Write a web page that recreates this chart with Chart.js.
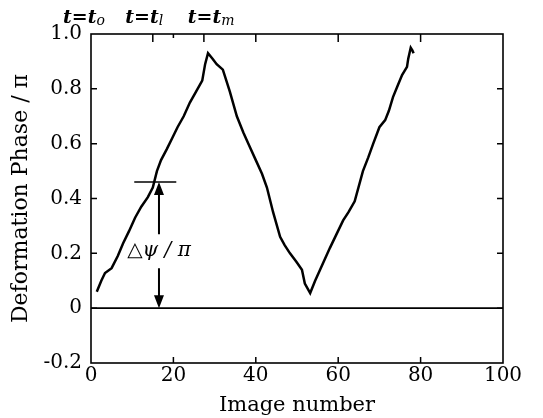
<!DOCTYPE html>
<html>
<head>
<meta charset="utf-8">
<script src="https://cdn.jsdelivr.net/npm/chart.js@4/dist/chart.umd.min.js"></script>
<style>
  html, body { margin: 0; padding: 0; background: #fff; }
  #wrap { width: 543px; height: 418px; }
</style>
</head>
<body>
<div id="wrap"><canvas id="phase"></canvas></div>
<script>
// phase curve, read per image number
const imageNumbers = [1.4, 2.5, 3.4, 5, 6.5, 7.8, 9.2, 10.7, 12.2, 13.8, 15, 16, 17, 18.4, 19.7, 21, 22.5, 24, 25.5, 27, 27.7, 28.4,
  29.5, 30.5, 32, 33.7, 35.4, 37, 38.5, 40, 41.5, 42.7, 44.2, 45.9, 47, 48.3, 49.8, 51.2, 51.9, 53.2,
  54.4, 55.6, 58, 59.6, 61.2, 62.5, 64, 66, 67.3, 68.5, 70, 71.4, 72.3, 73.3, 74.4, 75.5, 76.7, 77, 77.6, 78, 78.3];
const phaseValues = [0.06, 0.10, 0.128, 0.146, 0.19, 0.237, 0.28, 0.33, 0.37, 0.405, 0.44, 0.50, 0.54, 0.58, 0.62, 0.66, 0.70, 0.75, 0.79, 0.83, 0.89, 0.93,
  0.91, 0.89, 0.87, 0.79, 0.70, 0.64, 0.59, 0.54, 0.49, 0.44, 0.35, 0.26, 0.23, 0.20, 0.17, 0.14, 0.09, 0.055,
  0.10, 0.14, 0.22, 0.27, 0.32, 0.35, 0.39, 0.50, 0.55, 0.60, 0.66, 0.686, 0.72, 0.77, 0.81, 0.85, 0.88, 0.91, 0.95, 0.94, 0.93];

const xTicks = [0, 20, 40, 60, 80, 100];
const yTicks = [-0.2, 0, 0.2, 0.4, 0.6, 0.8, 1.0];
const yTickLabels = ['-0.2', '0', '0.2', '0.4', '0.6', '0.8', '1.0'];

// time markers along the top edge
const topTickValues = [15, 20, 27.4, 40, 60, 80];
const topTickLong = [true, false, true, true, true, true];
const timeLabelX = [-6.8, 8.3, 23.5];
const timeLabelSub = ['o', 'l', 'm'];

// delta psi annotation
const deltaX = 16.5;
const deltaTop = 0.46;
const deltaBarFrom = 10.5, deltaBarTo = 20.7;
const deltaUpShaftEnd = 0.27;
const deltaDownShaftStart = 0.146;
const deltaLabelY = 0.21;

const serif = "'DejaVu Serif', serif";

const frameAndMarks = {
  id: 'frameAndMarks',
  afterDatasetsDraw(chart) {
    const {ctx, chartArea: a, scales: {x, y}} = chart;
    ctx.save();
    ctx.strokeStyle = '#000';
    ctx.fillStyle = '#000';

    // box
    ctx.lineWidth = 1.6;
    ctx.strokeRect(a.left, a.top, a.right - a.left, a.bottom - a.top);

    // zero line
    ctx.lineWidth = 1.6;
    ctx.beginPath();
    ctx.moveTo(a.left, y.getPixelForValue(0));
    ctx.lineTo(a.right, y.getPixelForValue(0));
    ctx.stroke();

    // inward ticks
    ctx.lineWidth = 1.5;
    ctx.beginPath();
    xTicks.slice(1, -1).forEach(v => {
      const px = x.getPixelForValue(v);
      ctx.moveTo(px, a.bottom);
      ctx.lineTo(px, a.bottom - 6);
    });
    yTicks.slice(1, -1).forEach(v => {
      const py = y.getPixelForValue(v);
      ctx.moveTo(a.left, py);
      ctx.lineTo(a.left + 6, py);
      ctx.moveTo(a.right, py);
      ctx.lineTo(a.right - 6, py);
    });
    topTickValues.forEach((v, i) => {
      const px = x.getPixelForValue(v);
      ctx.moveTo(px, a.top);
      ctx.lineTo(px, a.top + (topTickLong[i] ? 8 : 4));
    });
    ctx.stroke();

    // t = t_o, t_l, t_m
    ctx.textBaseline = 'alphabetic';
    ctx.textAlign = 'left';
    timeLabelX.forEach((v, i) => {
      let px = x.getPixelForValue(v);
      ctx.font = "bold italic 19px " + serif;
      ctx.fillText('t=t', px, a.top - 11);
      px += ctx.measureText('t=t').width;
      ctx.font = "italic 14px " + serif;
      ctx.fillText(timeLabelSub[i], px, a.top - 9);
    });

    // delta psi arrows
    const ax = x.getPixelForValue(deltaX);
    const yTop = y.getPixelForValue(deltaTop);
    const yZero = y.getPixelForValue(0);
    ctx.lineWidth = 1.5;
    ctx.beginPath();
    ctx.moveTo(x.getPixelForValue(deltaBarFrom), yTop);
    ctx.lineTo(x.getPixelForValue(deltaBarTo), yTop);
    ctx.stroke();

    ctx.lineWidth = 2;
    ctx.beginPath();
    ctx.moveTo(ax, y.getPixelForValue(deltaUpShaftEnd));
    ctx.lineTo(ax, yTop + 10);
    ctx.moveTo(ax, y.getPixelForValue(deltaDownShaftStart));
    ctx.lineTo(ax, yZero - 10);
    ctx.stroke();

    ctx.beginPath();
    ctx.moveTo(ax, yTop);
    ctx.lineTo(ax - 5, yTop + 13);
    ctx.lineTo(ax + 5, yTop + 13);
    ctx.closePath();
    ctx.moveTo(ax, yZero);
    ctx.lineTo(ax - 5, yZero - 13);
    ctx.lineTo(ax + 5, yZero - 13);
    ctx.closePath();
    ctx.fill();

    ctx.font = "italic 20px " + serif;
    ctx.textAlign = 'center';
    ctx.textBaseline = 'middle';
    ctx.fillText('\u25B3\u03C8 / \u03C0', ax, y.getPixelForValue(deltaLabelY));

    ctx.restore();
  }
};

new Chart(document.getElementById('phase'), {
  type: 'line',
  data: {
    datasets: [{
      data: imageNumbers.map((n, i) => ({x: n, y: phaseValues[i]})),
      borderColor: '#000',
      borderWidth: 2.5,
      pointRadius: 0,
      tension: 0,
      fill: false
    }]
  },
  options: {
    responsive: true,
    maintainAspectRatio: false,
    animation: false,
    layout: { padding: { top: 34, right: 40, left: 0, bottom: 0 } },
    plugins: { legend: { display: false }, tooltip: { enabled: false } },
    scales: {
      x: {
        type: 'linear',
        min: 0,
        max: 100,
        afterBuildTicks: s => { s.ticks = xTicks.map(v => ({value: v})); },
        afterFit: s => { s.height = 55; },
        grid: { display: false, drawTicks: false },
        border: { display: false },
        ticks: { color: '#000', padding: 1, maxRotation: 0, font: { family: serif, size: 20 } },
        title: { display: true, text: 'Image number', color: '#000', padding: { top: 2, bottom: 0 }, font: { family: serif, size: 21 } }
      },
      y: {
        min: -0.2,
        max: 1.0,
        afterBuildTicks: s => { s.ticks = yTicks.map(v => ({value: v})); },
        afterFit: s => { s.width = 91; },
        grid: { display: false, drawTicks: false },
        border: { display: false },
        ticks: {
          color: '#000',
          padding: 9,
          font: { family: serif, size: 20 },
          callback: (v) => yTickLabels[yTicks.findIndex(t => Math.abs(t - v) < 1e-6)]
        },
        title: { display: true, text: 'Deformation Phase / \u03C0', color: '#000', padding: { top: 8, bottom: 0 }, font: { family: serif, size: 22 } }
      }
    }
  },
  plugins: [frameAndMarks]
});
</script>
</body>
</html>
